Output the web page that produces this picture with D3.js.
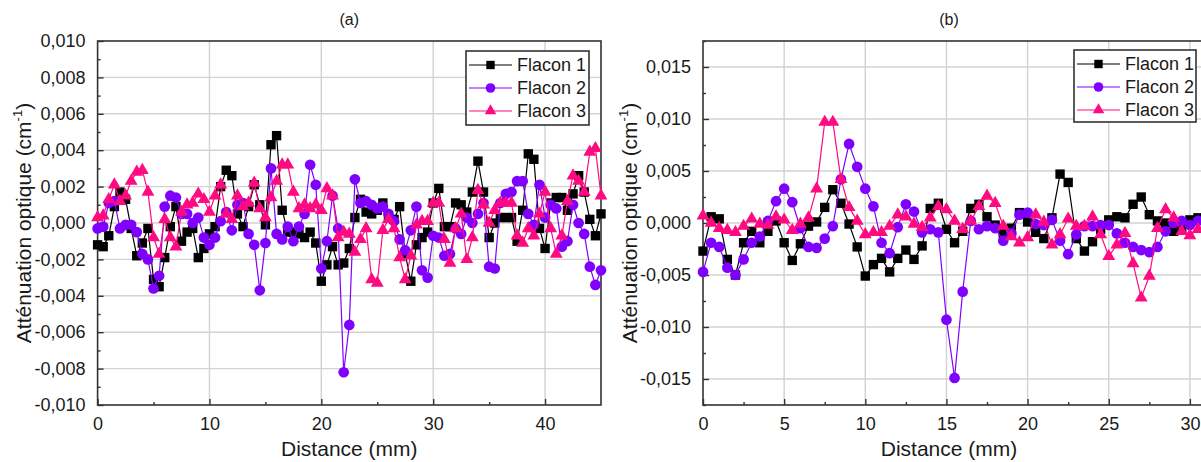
<!DOCTYPE html>
<html><head><meta charset="utf-8">
<script src="https://cdn.jsdelivr.net/npm/d3@7"></script>
<style>body{margin:0;background:#fff;} svg{display:block;font-family:"Liberation Sans",Arial,sans-serif;}</style>
</head><body><svg id="c" width="1201" height="462"></svg>
<script>
// ---------- data ----------
const stepMM = 0.5; // sampling step of the distance axis (mm)
const seriesNames = ["Flacon 1", "Flacon 2", "Flacon 3"];
const seriesColors = ["#000000", "#8000ff", "#ff0a80"];
const seriesSymbols = ["square", "circle", "triangle"];

// Panel (a)
const flacon1A = [-0.0012,-0.0013,-0.0007,0.0009,0.0017,0.0013,-0.0003,-0.0018,-0.0011,-0.0003,
 -0.0031,-0.0035,-0.0019,-0.0002,0.0009,-0.0010,-0.0005,-0.0003,-0.0019,-0.0014,
 -0.0006,-0.0002,0.0020,0.0029,0.0026,0.0005,-0.0002,0.0009,0.0021,0.0010,
 -0.0001,0.0043,0.0048,0.0007,-0.0005,-0.0005,-0.0006,-0.0008,-0.0005,-0.0011,
 -0.0032,-0.0023,-0.0013,-0.0023,-0.0022,-0.0014,0.0003,0.0013,0.0006,0.0005,
 0.0007,0.0011,0.0004,0.0002,0.0009,-0.0017,-0.0032,-0.0012,-0.0008,-0.0005,
 0.0011,0.0019,-0.0002,-0.0002,0.0011,0.0010,0.0006,0.0017,0.0034,0.0017,
 -0.0008,0.0000,0.0003,0.0003,0.0003,-0.0010,0.0007,0.0038,0.0035,-0.0003,
 -0.0014,0.0011,0.0014,0.0014,0.0007,0.0016,0.0026,0.0017,0.0002,-0.0007,0.0005];
const flacon2A = [-0.0003,-0.0002,0.0011,0.0012,-0.0003,-0.0001,-0.0001,-0.0005,-0.0017,-0.0020,
 -0.0036,-0.0029,0.0009,0.0015,0.0014,0.0005,0.0005,0.0000,0.0003,-0.0008,
 -0.0012,-0.0008,0.0001,0.0006,-0.0004,0.0010,0.0011,-0.0006,-0.0012,-0.0037,
 -0.0011,0.0030,-0.0006,-0.0009,-0.0002,-0.0010,-0.0002,0.0005,0.0032,0.0021,
 -0.0025,-0.0010,0.0015,-0.0003,-0.0082,-0.0056,0.0024,0.0011,0.0012,0.0010,
 0.0008,0.0009,0.0005,0.0001,-0.0009,-0.0015,-0.0004,0.0009,-0.0026,-0.0030,
 -0.0007,-0.0008,-0.0018,-0.0017,-0.0003,-0.0006,0.0003,0.0000,0.0005,0.0011,
 -0.0024,-0.0025,0.0011,0.0016,0.0017,0.0023,0.0023,0.0005,-0.0001,0.0021,
 0.0003,0.0010,0.0008,-0.0013,-0.0010,0.0010,0.0000,-0.0006,-0.0024,-0.0034,-0.0026];
const flacon3A = [0.0003,0.0004,0.0013,0.0021,0.0012,0.0015,0.0023,0.0028,0.0029,0.0017,
 -0.0008,-0.0017,0.0002,-0.0008,-0.0013,0.0006,0.0010,0.0011,0.0016,0.0013,
 0.0006,0.0015,0.0021,0.0005,0.0002,0.0015,0.0009,0.0011,0.0022,0.0008,
 0.0003,0.0014,0.0023,0.0032,0.0032,0.0017,0.0008,0.0010,0.0008,0.0010,
 0.0007,0.0019,0.0015,-0.0008,-0.0005,-0.0006,-0.0016,-0.0009,-0.0003,-0.0031,
 -0.0033,-0.0004,0.0002,-0.0003,-0.0019,-0.0031,-0.0018,-0.0001,0.0001,0.0001,
 0.0011,0.0011,-0.0009,-0.0022,-0.0003,0.0005,-0.0020,-0.0008,0.0018,0.0010,
 0.0000,0.0007,0.0011,0.0011,0.0011,-0.0007,-0.0011,-0.0003,-0.0007,0.0005,
 0.0017,-0.0003,-0.0017,-0.0007,0.0012,0.0026,0.0023,0.0017,0.0039,0.0041,0.0015];

// Panel (b)
const flacon1B = [-0.0027,0.0006,0.0004,-0.0035,-0.0050,-0.0019,-0.0008,-0.0019,-0.0008,0.0002,
 -0.0019,-0.0036,-0.0020,-0.0003,0.0001,0.0015,0.0032,0.0019,-0.0001,-0.0023,
 -0.0051,-0.0040,-0.0034,-0.0047,-0.0034,-0.0026,-0.0035,-0.0022,0.0014,0.0019,
 -0.0006,-0.0019,-0.0008,0.0014,0.0018,0.0006,-0.0002,-0.0010,-0.0005,0.0010,
 0.0001,-0.0009,-0.0015,0.0005,0.0047,0.0039,-0.0015,-0.0027,-0.0018,-0.0006,
 0.0003,0.0006,0.0005,0.0018,0.0025,0.0008,0.0002,0.0000,-0.0008,-0.0006,0.0003,0.0005];
const flacon2B = [-0.0047,-0.0019,-0.0023,-0.0043,-0.0050,-0.0035,-0.0019,-0.0013,0.0002,0.0021,
 0.0033,0.0020,-0.0005,-0.0023,-0.0024,-0.0015,-0.0003,0.0042,0.0076,0.0054,
 0.0033,0.0016,-0.0019,-0.0029,-0.0004,0.0018,0.0011,-0.0009,-0.0006,-0.0009,
 -0.0093,-0.0149,-0.0066,0.0002,-0.0006,-0.0003,-0.0005,-0.0017,-0.0010,0.0008,
 0.0010,-0.0001,-0.0002,0.0003,-0.0017,-0.0030,-0.0011,-0.0003,-0.0003,-0.0002,
 -0.0002,-0.0010,-0.0019,-0.0023,-0.0026,-0.0028,-0.0023,-0.0008,0.0000,0.0002,-0.0002,0.0002];
const flacon3B = [0.0007,0.0000,-0.0005,-0.0007,-0.0009,-0.0003,0.0004,-0.0001,-0.0002,0.0006,
 0.0003,-0.0007,-0.0001,0.0005,0.0033,0.0097,0.0097,0.0042,0.0015,0.0002,
 -0.0011,-0.0009,-0.0009,-0.0003,0.0008,0.0006,-0.0001,-0.0004,0.0005,0.0016,
 0.0013,0.0002,-0.0006,0.0002,0.0016,0.0026,0.0019,-0.0003,-0.0013,-0.0019,
 -0.0014,0.0008,0.0001,-0.0021,-0.0011,0.0004,-0.0003,-0.0003,0.0006,-0.0011,
 -0.0032,-0.0021,-0.0010,-0.0039,-0.0072,-0.0051,-0.0005,0.0013,0.0005,-0.0008,-0.0012,-0.0006];

// Axis ticks
const xTicksA = [0, 10, 20, 30, 40];
const xMinorA = [5, 15, 25, 35];
const yTicksA = [-0.010, -0.008, -0.006, -0.004, -0.002, 0.000, 0.002, 0.004, 0.006, 0.008, 0.010];
const yMinorA = [-0.009, -0.007, -0.005, -0.003, -0.001, 0.001, 0.003, 0.005, 0.007, 0.009];
const xTicksB = [0, 5, 10, 15, 20, 25, 30];
const xMinorB = [2.5, 7.5, 12.5, 17.5, 22.5, 27.5];
const yTicksB = [-0.015, -0.010, -0.005, 0.000, 0.005, 0.010, 0.015];
const yMinorB = [-0.0175, -0.0125, -0.0075, -0.0025, 0.0025, 0.0075, 0.0125, 0.0175];

// ---------- drawing ----------
const svg = d3.select("#c");
const fmt = v => { const s = Math.abs(v) < 1e-9 ? "0.000" : v.toFixed(3); return s.replace(".", ",").replace("\u2212", "-"); };
const symType = {square: d3.symbolSquare, circle: d3.symbolCircle, triangle: d3.symbolTriangle};
const symSize = {square: 88, circle: 90, triangle: 72};

function panel(cfg) {
  const x = d3.scaleLinear().domain(cfg.xDomain).range([cfg.left, cfg.right]);
  const y = d3.scaleLinear().domain(cfg.yDomain).range([cfg.bottom, cfg.top]);
  const g = svg.append("g");

  // grid
  g.append("g").selectAll("line").data(cfg.xTicks.filter(t => t > cfg.xDomain[0])).join("line")
    .attr("x1", d => x(d)).attr("x2", d => x(d)).attr("y1", cfg.top).attr("y2", cfg.bottom)
    .attr("stroke", "#d2d2d2").attr("stroke-width", 1.4);
  g.append("g").selectAll("line").data(cfg.yTicks.filter(t => t > cfg.yDomain[0] && t < cfg.yDomain[1])).join("line")
    .attr("x1", cfg.left).attr("x2", cfg.right).attr("y1", d => y(d)).attr("y2", d => y(d))
    .attr("stroke", "#d2d2d2").attr("stroke-width", 1.4);

  // frame
  g.append("rect").attr("x", cfg.left).attr("y", cfg.top)
    .attr("width", cfg.right - cfg.left).attr("height", cfg.bottom - cfg.top)
    .attr("fill", "none").attr("stroke", "#333").attr("stroke-width", 1.6);

  // axes with inward ticks
  const xAxis = d3.axisBottom(x).tickValues(cfg.xTicks).tickSize(-6).tickPadding(10).tickFormat(d3.format("d"));
  const xa = g.append("g").attr("transform", `translate(0,${cfg.bottom})`).call(xAxis);
  const xAxisMinor = d3.axisBottom(x).tickValues(cfg.xMinor).tickSize(-3).tickFormat("");
  const xm = g.append("g").attr("transform", `translate(0,${cfg.bottom})`).call(xAxisMinor);
  const yAxis = d3.axisLeft(y).tickValues(cfg.yTicks).tickSize(-6).tickPadding(12).tickFormat(fmt);
  const ya = g.append("g").attr("transform", `translate(${cfg.left},0)`).call(yAxis);
  const yAxisMinor = d3.axisLeft(y).tickValues(cfg.yMinor).tickSize(-3).tickFormat("");
  const ym = g.append("g").attr("transform", `translate(${cfg.left},0)`).call(yAxisMinor);
  [xa, xm, ya, ym].forEach(a => {
    a.select(".domain").remove();
    a.selectAll(".tick line").attr("stroke", "#333").attr("stroke-width", 1.4);
    a.selectAll(".tick text").attr("font-size", 18).attr("fill", "#1a1a1a")
      .attr("font-family", '"Liberation Sans", Arial, sans-serif');
  });
  xa.selectAll(".tick text").attr("dy", "0.85em");

  // series
  const xs = cfg.series[0].map((_, i) => i * stepMM);
  cfg.series.forEach((vals, k) => {
    const pts = vals.map((v, i) => [xs[i], v]);
    g.append("path").datum(pts)
      .attr("d", d3.line().x(d => x(d[0])).y(d => y(d[1])))
      .attr("fill", "none").attr("stroke", seriesColors[k]).attr("stroke-width", 1.2);
    g.append("g").selectAll("path").data(pts).join("path")
      .attr("transform", d => `translate(${x(d[0])},${y(d[1])})`)
      .attr("d", d3.symbol().type(symType[seriesSymbols[k]]).size(symSize[seriesSymbols[k]]))
      .attr("fill", seriesColors[k]);
  });

  // legend
  const L = cfg.legend;
  g.append("rect").attr("x", L.x).attr("y", L.y).attr("width", L.w).attr("height", L.h)
    .attr("fill", "#fff").attr("stroke", "#333").attr("stroke-width", 1.6);
  seriesNames.forEach((name, k) => {
    const yy = L.y + 14 + k * 23;
    g.append("line").attr("x1", L.x + 3).attr("x2", L.x + 46).attr("y1", yy).attr("y2", yy)
      .attr("stroke", seriesColors[k]).attr("stroke-width", 1.2);
    g.append("path").attr("transform", `translate(${L.x + 24.5},${yy})`)
      .attr("d", d3.symbol().type(symType[seriesSymbols[k]]).size(symSize[seriesSymbols[k]] * 0.8))
      .attr("fill", seriesColors[k]);
    g.append("text").attr("x", L.x + 51).attr("y", yy).attr("dy", "0.35em")
      .attr("font-size", 18).attr("fill", "#1a1a1a").text(name);
  });

  // titles
  const cx = (cfg.left + Math.min(cfg.right, 1201)) / 2 + cfg.titleShift;
  g.append("text").attr("x", cx).attr("y", 25).attr("text-anchor", "middle")
    .attr("font-size", 16).attr("fill", "#1a1a1a").text(cfg.title);
  g.append("text").attr("x", cx).attr("y", 456).attr("text-anchor", "middle")
    .attr("font-size", 21).attr("fill", "#1a1a1a").text("Distance (mm)");
  const yt = g.append("text").attr("transform", `translate(${cfg.yTitleX},${(cfg.top + cfg.bottom) / 2}) rotate(-90)`)
    .attr("text-anchor", "middle").attr("font-size", 21).attr("fill", "#1a1a1a");
  yt.append("tspan").text("Atténuation optique (cm");
  yt.append("tspan").attr("font-size", 13).attr("dy", "-0.7em").text("-1");
  yt.append("tspan").attr("dy", "0.45em").text(")");
}

panel({
  left: 97.6, right: 601, top: 41, bottom: 405,
  xDomain: [0, 45], yDomain: [-0.010, 0.010],
  xTicks: xTicksA, xMinor: xMinorA, yTicks: yTicksA, yMinor: yMinorA,
  series: [flacon1A, flacon2A, flacon3A],
  legend: {x: 466, y: 51, w: 123, h: 74},
  title: "(a)", titleShift: 0, yTitleX: 31
});
panel({
  left: 703, right: 703 + 30.8 * 16.23, top: 41, bottom: 405,
  xDomain: [0, 30.8], yDomain: [-0.0175, 0.0175],
  xTicks: xTicksB, xMinor: xMinorB, yTicks: yTicksB, yMinor: yMinorB,
  series: [flacon1B, flacon2B, flacon3B],
  legend: {x: 1074, y: 50, w: 122, h: 72},
  title: "(b)", titleShift: -3, yTitleX: 637
});
</script></body></html>
